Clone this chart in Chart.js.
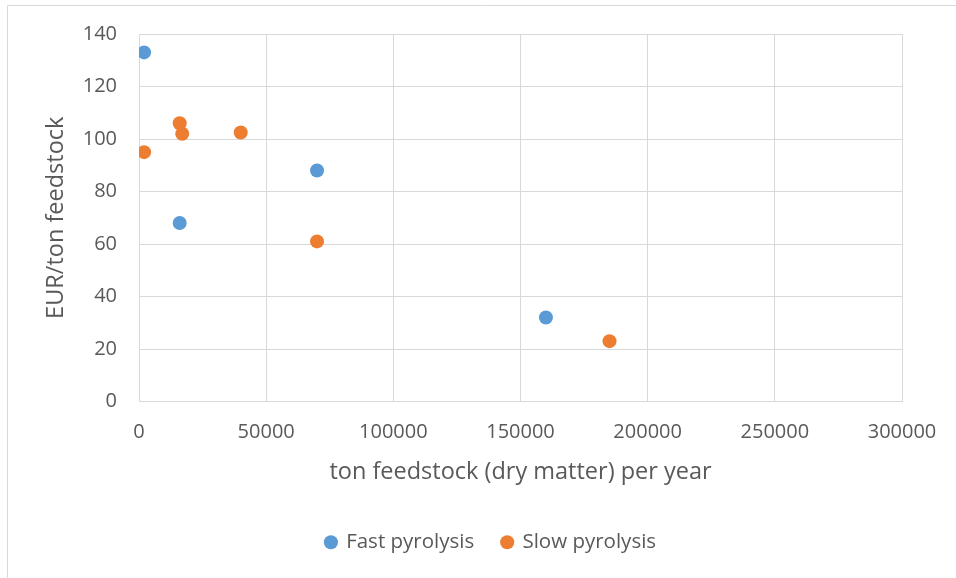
<!DOCTYPE html>
<html>
<head>
<meta charset="utf-8">
<script src="https://cdn.jsdelivr.net/npm/chart.js@4.4.1/dist/chart.umd.min.js"></script>
<style>
  html, body { margin: 0; padding: 0; background: #ffffff; }
  #wrap { width: 956px; height: 578px; position: relative; }
</style>
</head>
<body>
<div id="wrap"><canvas id="c" width="956" height="578"></canvas></div>
<script>
// Data
const fastX = [2000, 16000, 70000, 160000];
const fastY = [133, 68, 88, 32];
const slowX = [2000, 16000, 17000, 40000, 70000, 185000];
const slowY = [95, 106, 102, 102.5, 61, 23];
const seriesNames = ['Fast pyrolysis', 'Slow pyrolysis'];
const xTitle = 'ton feedstock (dry matter) per year';
const yTitle = 'EUR/ton feedstock';

const toPoints = (xs, ys) => xs.map((x, i) => ({ x: x, y: ys[i] }));

const TEXT = '#595959';
const GRID = '#D9D9D9';
const FONT = "'Open Sans', sans-serif";

const frame = {
  id: 'frame',
  beforeDraw(chart) {
    const ctx = chart.ctx;
    ctx.save();
    ctx.strokeStyle = GRID;
    ctx.lineWidth = 1;
    ctx.beginPath();
    ctx.moveTo(7.5, chart.height);
    ctx.lineTo(7.5, 5.5);
    ctx.lineTo(chart.width, 5.5);
    ctx.stroke();
    ctx.restore();
  }
};

const legendShift = {
  id: 'legendShift',
  afterLayout(chart) {
    const l = chart.legend;
    if (l) { l.left += 40; l.right += 40; }
  }
};

new Chart(document.getElementById('c'), {
  type: 'scatter',
  data: {
    datasets: [
      {
        label: seriesNames[0],
        data: toPoints(fastX, fastY),
        backgroundColor: '#5B9BD5',
        borderColor: '#5B9BD5',
        borderWidth: 0,
        pointRadius: 7,
        pointHoverRadius: 7
      },
      {
        label: seriesNames[1],
        data: toPoints(slowX, slowY),
        backgroundColor: '#ED7D31',
        borderColor: '#ED7D31',
        borderWidth: 0,
        pointRadius: 7,
        pointHoverRadius: 7
      }
    ]
  },
  options: {
    responsive: false,
    animation: false,
    events: [],
    layout: { padding: { top: 34, right: 54, left: 0, bottom: 15.5 } },
    plugins: {
      tooltip: { enabled: false },
      legend: {
        position: 'bottom',
        labels: {
          usePointStyle: true,
          pointStyle: 'circle',
          boxWidth: 10,
          boxHeight: 10,
          padding: 28,
          color: TEXT,
          font: { family: FONT, size: 20.5 }
        }
      }
    },
    scales: {
      x: {
        type: 'linear',
        min: 0,
        max: 300000,
        afterFit(s) { s.height = 102.5; },
        ticks: {
          stepSize: 50000,
          padding: 19,
          color: TEXT,
          font: { family: FONT, size: 20 },
          callback: (v) => String(v)
        },
        grid: { color: GRID, lineWidth: 1, drawTicks: false },
        border: { color: GRID, width: 1 },
        title: {
          display: true,
          text: xTitle,
          color: TEXT,
          font: { family: FONT, size: 23.5 },
          padding: { top: 0, bottom: 18 }
        }
      },
      y: {
        type: 'linear',
        min: 0,
        max: 140,
        afterFit(s) { s.width = 139; },
        ticks: {
          stepSize: 20,
          padding: 22,
          color: TEXT,
          font: { family: FONT, size: 20 }
        },
        grid: { color: GRID, lineWidth: 1, drawTicks: false },
        border: { color: GRID, width: 1 },
        title: {
          display: true,
          text: yTitle,
          color: TEXT,
          font: { family: FONT, size: 23.5 },
          padding: { top: 42, bottom: 0 }
        }
      }
    }
  },
  plugins: [frame, legendShift]
});
</script>
</body>
</html>
